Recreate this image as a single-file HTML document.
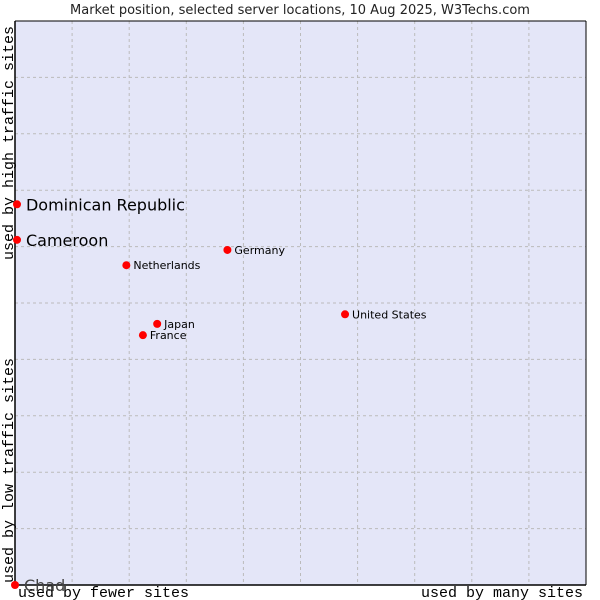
<!DOCTYPE html>
<html><head><meta charset="utf-8"><style>
body{margin:0;background:#fff;}
svg{display:block;font-family:"DejaVu Sans","Liberation Sans",sans-serif;}
</style></head><body>
<svg id="chart" width="600" height="600" viewBox="0 0 600 600">
<text x="300" y="14" text-anchor="middle" font-size="13" fill="#222">Market position, selected server locations, 10 Aug 2025, W3Techs.com</text>
<rect x="15" y="21" width="571" height="564" fill="#e4e6f8"/>
<g id="grid"></g>
<line x1="15" y1="21" x2="15" y2="585" stroke="#000" stroke-width="1.5"/>
<line x1="15" y1="585" x2="586" y2="585" stroke="#000" stroke-width="1.5"/>
<line x1="15" y1="21" x2="586" y2="21" stroke="#000" stroke-width="1"/>
<line x1="586" y1="21" x2="586" y2="585" stroke="#000" stroke-width="1"/>
<text x="18" y="597" font-family="Liberation Mono,monospace" font-size="15" fill="#000">used by fewer sites</text>
<text x="583" y="597" text-anchor="end" font-family="Liberation Mono,monospace" font-size="15" fill="#000">used by many sites</text>
<text transform="translate(13,583) rotate(-90)" font-family="Liberation Mono,monospace" font-size="15" fill="#000">used by low traffic sites</text>
<text transform="translate(13,260) rotate(-90)" font-family="Liberation Mono,monospace" font-size="15" fill="#000">used by high traffic sites</text>
<g id="points"></g>
</svg>
<script>
const countries = ["Dominican Republic","Cameroon","Netherlands","Germany","United States","Japan","France","Chad"];
const xValues = [0.35,0.35,19.5,37.2,57.8,24.9,22.4,0];
const yValues = [67.5,61.2,56.7,59.4,48.0,46.3,44.3,0];
const bigLabel = [true,true,false,false,false,false,false,true];
const NS="http://www.w3.org/2000/svg";
const X0=15,X1=586,Y0=585,Y1=21;
function sx(v){return X0+(X1-X0)*v/100;}
function sy(v){return Y0-(Y0-Y1)*v/100;}
const grid=document.getElementById('grid');
for(let i=1;i<10;i++){
  const lx=document.createElementNS(NS,'line');
  
  
  lx.setAttribute('x1',sx(i*10));lx.setAttribute('x2',sx(i*10));
  lx.setAttribute('y1',Y1);lx.setAttribute('y2',Y0);
  lx.setAttribute('stroke','#bbb');lx.setAttribute('stroke-dasharray','3,3');
  grid.appendChild(lx);
  const ly=document.createElementNS(NS,'line');
  
  
  ly.setAttribute('y1',sy(i*10));ly.setAttribute('y2',sy(i*10));
  ly.setAttribute('x1',X0);ly.setAttribute('x2',X1);
  ly.setAttribute('stroke','#bbb');ly.setAttribute('stroke-dasharray','3,3');
  grid.appendChild(ly);
}
const pts=document.getElementById('points');
countries.forEach((c,i)=>{
  const x=sx(xValues[i]),y=sy(yValues[i]);
  const d=document.createElementNS(NS,'circle');
  
  
  d.setAttribute('cx',x);d.setAttribute('cy',y);d.setAttribute('r',4);d.setAttribute('fill','#f00');
  pts.appendChild(d);
  const t=document.createElementNS(NS,'text');
  
  
  t.setAttribute('x',x+(bigLabel[i]?9:7));
  t.setAttribute('y',y+(bigLabel[i]?6:4));
  t.setAttribute('font-size',bigLabel[i]?16:11);
  t.setAttribute('fill',c==="Chad"?'#444':'#000');
  t.textContent=c;
  pts.appendChild(t);
});
</script>
</body></html>
